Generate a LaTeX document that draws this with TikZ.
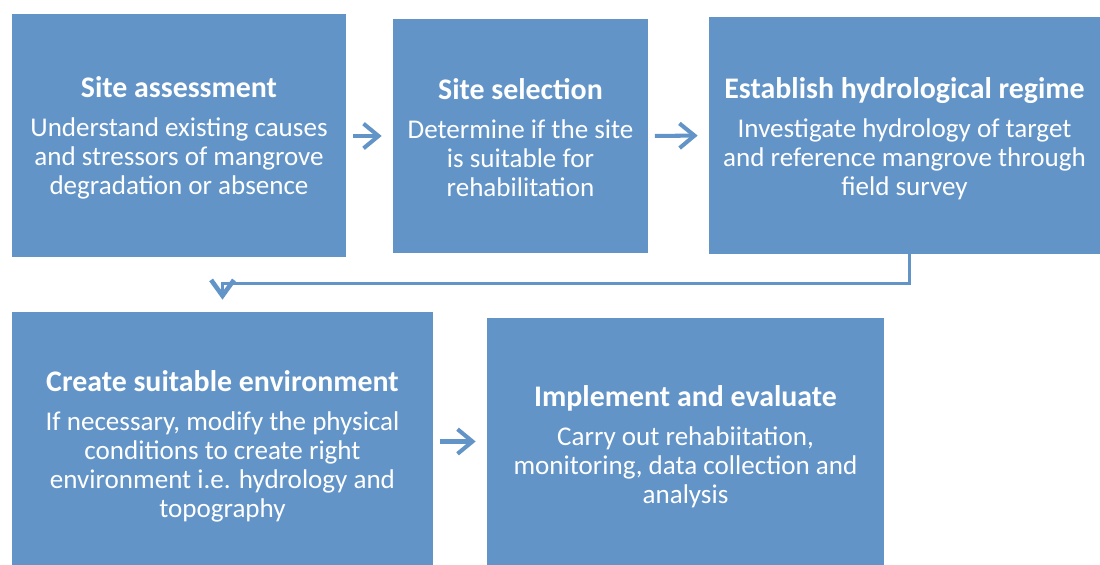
\documentclass[tikz,border=0pt]{standalone}
\usepackage{fontspec}
\setmainfont{Carlito}
\usetikzlibrary{positioning, arrows.meta, calc}
\usepackage{xcolor}
\definecolor{stageblue}{RGB}{98,148,200}
% optional argument: height of an invisible strut above the title (moves the text down)
\newcommand{\stagetitle}[2][0pt]{{\fontsize{17}{19}\selectfont\bfseries\rule{0pt}{#1}#2}\\[5.7pt]}

\begin{document}
\begin{tikzpicture}[
  stagebox/.style={rectangle, fill=stageblue, text=white, align=center, inner sep=0pt, font=\fontsize{15.4}{16.5}\selectfont},
  flowarrow/.style={-{Straight Barb[length=8.5pt, width=14pt]}, line width=2.3pt, draw=stageblue, shorten <=0.13cm, shorten >=0.22cm},
  linkarrow/.style={-{Straight Barb[length=9pt, width=13pt, line width=2.6pt]}, line width=1.6pt, draw=stageblue, shorten >=0.24cm}
]
  \useasboundingbox (0,0) rectangle (22,-11.3);

  \node[stagebox, minimum width=6.68cm, minimum height=4.86cm] (assess) at (3.58,-2.71) {\stagetitle[15pt]{Site assessment}Understand existing causes\\ and stressors of mangrove\\ degradation or absence};
  \node[stagebox, minimum width=5.10cm, minimum height=4.68cm] (select) at (10.41,-2.72) {\stagetitle[13.5pt]{Site selection}Determine if the site\\ is suitable for\\ rehabilitation};
  \node[stagebox, minimum width=7.82cm, minimum height=4.74cm] (hydro) at (18.09,-2.71) {\stagetitle[15.7pt]{Establish hydrological regime}Investigate hydrology of target\\ and reference mangrove through\\ field survey};
  \node[stagebox, minimum width=8.42cm, minimum height=5.06cm] (create) at (4.45,-8.77) {\stagetitle[20.8pt]{Create suitable environment}If necessary, modify the physical\\ conditions to create right\\ environment i.e. hydrology and\\ topography};
  \node[stagebox, minimum width=7.94cm, minimum height=4.94cm] (implement) at (13.71,-8.83) {\stagetitle[18pt]{Implement and evaluate}Carry out rehabiitation,\\ monitoring, data collection and\\ analysis};

  \draw[flowarrow] (assess.east |- select.west) -- (select.west);
  \draw[flowarrow] (select.east) -- (hydro.west);
  \draw[flowarrow] (create.east |- implement.west) -- (implement.west);

  \coordinate (turn) at ($(hydro.south)+(0.1,-0.58)$);
  \draw[linkarrow] ($(hydro.south)+(0.1,0)$) -- (turn) -| (create.north);
\end{tikzpicture}
\end{document}
